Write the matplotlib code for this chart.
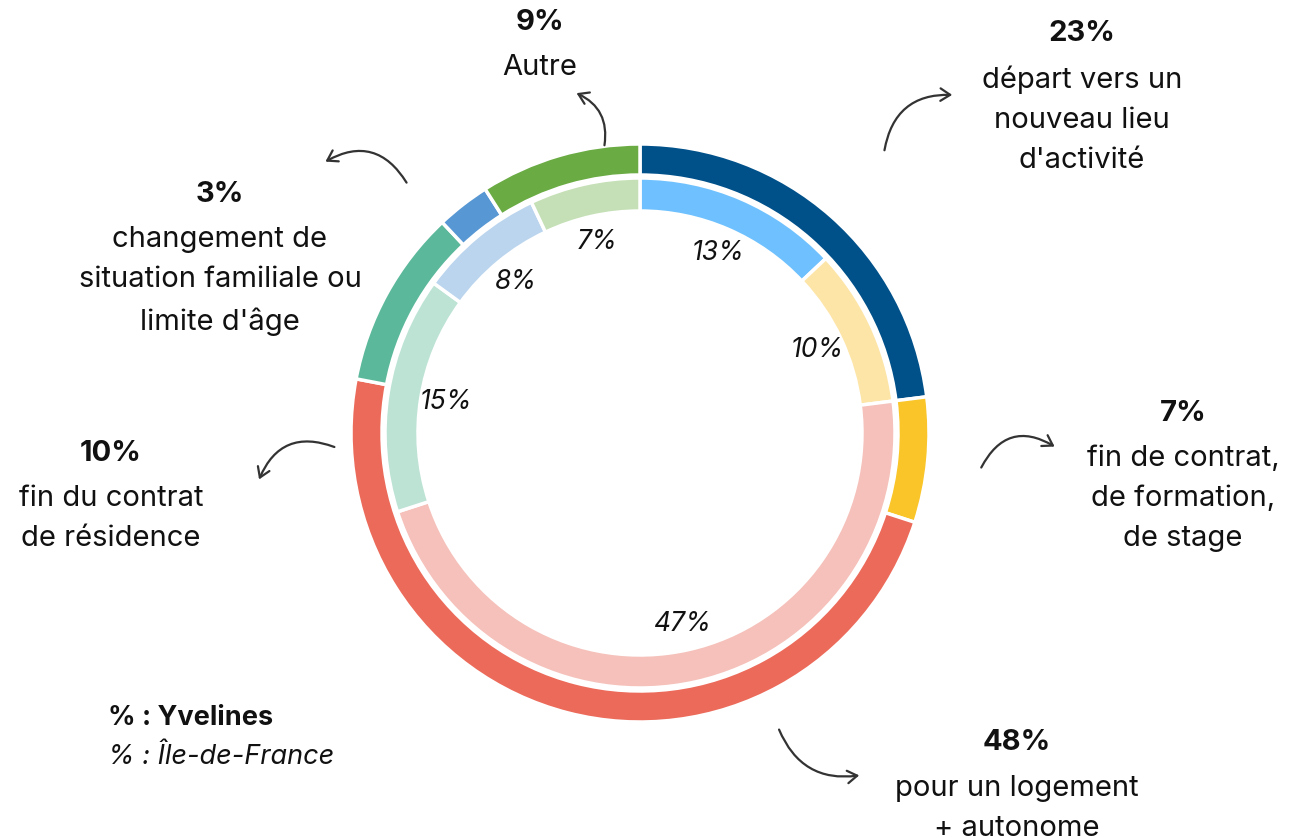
import matplotlib
matplotlib.use("Agg")
import matplotlib.pyplot as plt
from matplotlib.patches import FancyArrowPatch

plt.rcParams["font.family"] = ["Inter", "DejaVu Sans"]

W, H = 1300, 838

# outer ring: Yvelines, inner ring: Ile-de-France (clockwise from top)
categories = [
    "départ vers un\nnouveau lieu\nd'activité",
    "fin de contrat,\nde formation,\nde stage",
    "pour un logement\n+ autonome",
    "fin du contrat\nde résidence",
    "changement de\nsituation familiale ou\nlimite d'âge",
    "Autre",
]
yvelines = [23, 7, 48, 10, 3, 9]
idf = [13, 10, 47, 15, 8, 7]

outer_colors = ["#00508a", "#f9c529", "#ec6a5a", "#5bb89a", "#5797d3", "#6aab43"]
inner_colors = ["#6ec1fe", "#fde5a8", "#f5c1ba", "#bde3d5", "#bbd5ee", "#c5e0b6"]

CX, CY = 640, 433  # pixel coords of the centre
R_OUT, W_OUT = 289, 31
R_IN, W_IN = 255, 33


def py(y):
    return H - y


fig = plt.figure(figsize=(13, 8.38), dpi=100)
ax = fig.add_axes([0, 0, 1, 1])

ax.pie(yvelines, colors=outer_colors, radius=R_OUT, center=(CX, py(CY)),
       startangle=90, counterclock=False,
       wedgeprops=dict(width=W_OUT, edgecolor="white", linewidth=2.5))

ax.pie(idf, colors=inner_colors, radius=R_IN, center=(CX, py(CY)),
       startangle=90, counterclock=False,
       autopct=lambda p: f"{p:.0f}%", pctdistance=196 / R_IN,
       textprops=dict(fontsize=19, fontstyle="italic", color="#111111"),
       wedgeprops=dict(width=W_IN, edgecolor="white", linewidth=2.5))

# label text anchors (x, y of the bold % line) and arrows (start, end, rad)
label_pos = [(1082, 33), (1183, 413), (1017, 743), (111, 453), (220, 194), (540, 22)]
arrows = [
    ((884, 153), (955, 95), -0.45),
    ((980, 470), (1057, 448), -0.55),
    ((778, 727), (862, 775), 0.4),
    ((337, 448), (258, 482), 0.5),
    ((408, 185), (323, 163), 0.5),
    ((604, 148), (574, 92), 0.4),
]

for cat, val, (x, y) in zip(categories, yvelines, label_pos):
    ax.text(x, py(y), f"{val}%", ha="center", va="center",
            fontsize=21, fontweight="bold", color="#111111")
    ax.text(x, py(y + 32), cat, ha="center", va="top",
            fontsize=21, color="#111111", linespacing=1.63)

for (x0, y0), (x1, y1), rad in arrows:
    ax.add_patch(FancyArrowPatch((x0, py(y0)), (x1, py(y1)),
                                 connectionstyle=f"arc3,rad={rad}",
                                 arrowstyle="->,head_length=7,head_width=4.5",
                                 color="#333333", linewidth=1.6))

ax.text(108, py(718), "% : Yvelines", ha="left", va="center",
        fontsize=19.5, fontweight="bold", color="#111111")
ax.text(108, py(757), "% : Île-de-France", ha="left", va="center",
        fontsize=19.5, fontstyle="italic", color="#111111")

ax.set_xlim(0, W)
ax.set_ylim(0, H)
ax.set_aspect("equal")
ax.axis("off")

fig.savefig("out.png", dpi=100, facecolor="white")
